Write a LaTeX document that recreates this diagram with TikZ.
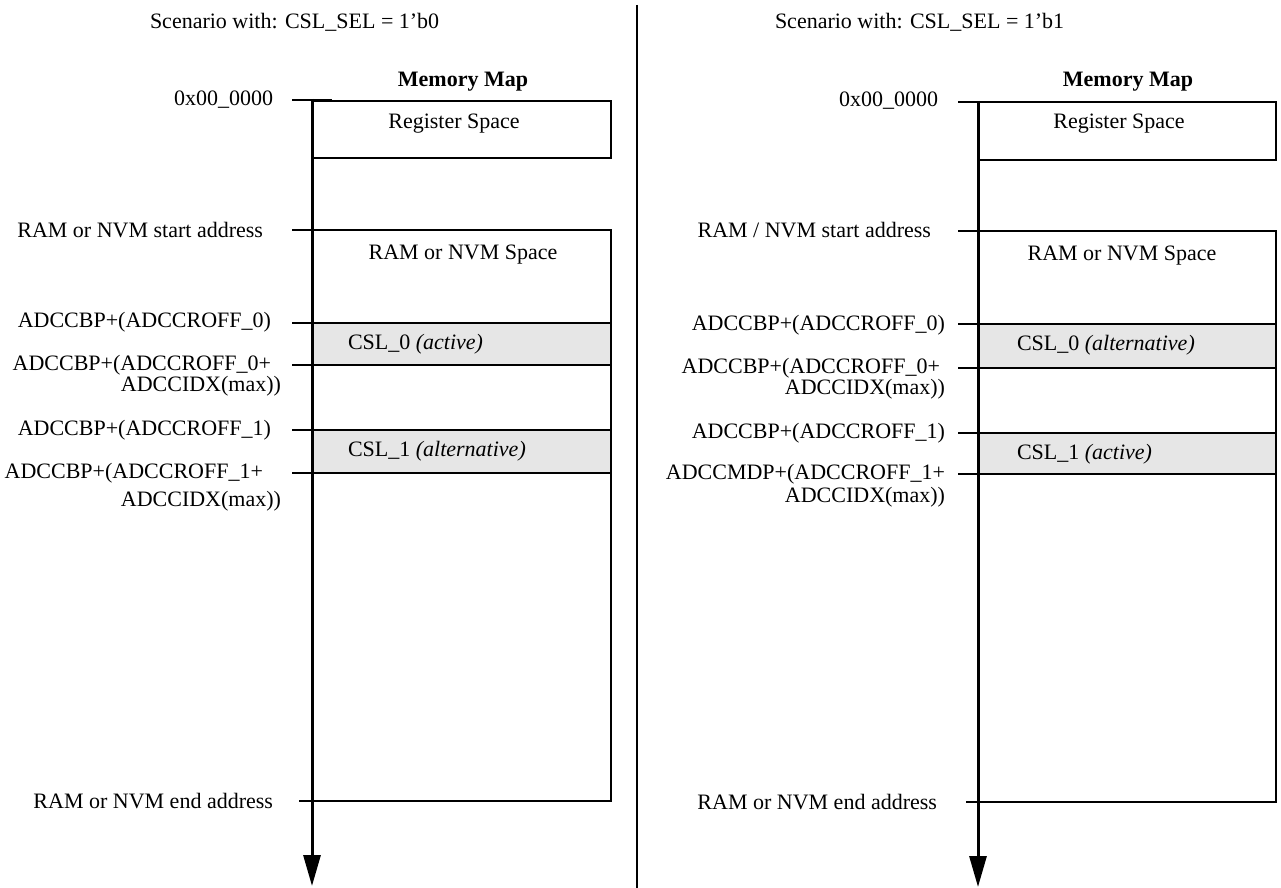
\documentclass[tikz,border=0pt]{standalone}
\usepackage{fontspec}
\setmainfont{Liberation Serif}
\usetikzlibrary{arrows.meta}
\definecolor{cslgray}{HTML}{E6E6E6}
\begin{document}
\begin{tikzpicture}[x=0.5pt,y=-0.5pt,
  every node/.style={font=\fontsize{11}{13}\selectfont, inner sep=0pt, outer sep=0pt},
  lbl/.style={anchor=east},
  ttl/.style={anchor=west},
  memline/.style={line width=1pt},
  tickline/.style={line width=1pt},
  axisline/.style={line width=1.5pt, -{Triangle[width=8.5pt,length=15.5pt]}},
  cslbox/.style={draw, line width=1pt, fill=cslgray}
]
\useasboundingbox (0,0) rectangle (1281,888);
\fill[white] (0,0) rectangle (1281,888);

% divider
\coordinate (divtop) at (637,5);
\coordinate (divbot) at (637,888);
\draw[line width=1pt] (divtop) -- (divbot);

% ================= LEFT PANEL =================
\node[ttl] (ltitle) at (150,22) {Scenario with: CSL\_SEL = 1'b0};
\node (lmm) at (463,82) {\bfseries Memory Map};

% boxes
\draw[memline] (312,101) rectangle (611,158);
\draw[memline] (312,230) rectangle (611,801);
\draw[cslbox] (312,323) rectangle (611,365);
\draw[cslbox] (312,430) rectangle (611,473);

\node (lreg) at (454,124) {Register Space};
\node (lram) at (463,255) {RAM or NVM Space};
\node[anchor=west] (lcsl0) at (348,344) {CSL\_0 \textit{(active)}};
\node[anchor=west] (lcsl1) at (348,451) {CSL\_1 \textit{(alternative)}};

% labels
\node[lbl] (la0) at (273,100) {0x00\_0000};
\node[lbl] (la1) at (263,230) {RAM or NVM start address};
\node[lbl] (la2) at (271,322) {ADCCBP+(ADCCROFF\_0)};
\node[lbl] (la3) at (271,365) {ADCCBP+(ADCCROFF\_0+};
\node[lbl] (la3b) at (281,386) {ADCCIDX(max))};
\node[lbl] (la4) at (271,430) {ADCCBP+(ADCCROFF\_1)};
\node[lbl] (la5) at (263,473) {ADCCBP+(ADCCROFF\_1+};
\node[lbl] (la5b) at (281,501) {ADCCIDX(max))};
\node[lbl] (la6) at (273,801) {RAM or NVM end address};

% ticks
\coordinate (lt0a) at (292,100); \coordinate (lt0b) at (332,100);
\coordinate (lt1a) at (292,230); \coordinate (lt1b) at (322,230);
\coordinate (lt2a) at (292,323); \coordinate (lt2b) at (324,323);
\coordinate (lt3a) at (292,365); \coordinate (lt3b) at (322,365);
\coordinate (lt4a) at (292,430); \coordinate (lt4b) at (322,430);
\coordinate (lt5a) at (292,473); \coordinate (lt5b) at (322,473);
\coordinate (lt6a) at (299,801); \coordinate (lt6b) at (320,801);
\foreach \i in {0,...,6}{\draw[tickline] (lt\i a) -- (lt\i b);}

% axis
\coordinate (laxtop) at (312,99);
\coordinate (laxbot) at (312,886);
\draw[axisline] (laxtop) -- (laxbot);

% ================= RIGHT PANEL =================
\node[ttl] (rtitle) at (775,22) {Scenario with: CSL\_SEL = 1'b1};
\node (rmm) at (1128,82) {\bfseries Memory Map};

\draw[memline] (978,102) rectangle (1276,160);
\draw[memline] (978,231) rectangle (1276,802);
\draw[cslbox] (978,324) rectangle (1276,368);
\draw[cslbox] (978,433) rectangle (1276,474);

\node (rreg) at (1119,124) {Register Space};
\node (rram) at (1122,256) {RAM or NVM Space};
\node[anchor=west] (rcsl0) at (1017,345) {CSL\_0 \textit{(alternative)}};
\node[anchor=west] (rcsl1) at (1017,454) {CSL\_1 \textit{(active)}};

\node[lbl] (ra0) at (938,101) {0x00\_0000};
\node[lbl] (ra1) at (931,230) {RAM / NVM start address};
\node[lbl] (ra2) at (945,325) {ADCCBP+(ADCCROFF\_0)};
\node[lbl] (ra3) at (940,368) {ADCCBP+(ADCCROFF\_0+};
\node[lbl] (ra3b) at (945,389) {ADCCIDX(max))};
\node[lbl] (ra4) at (945,433) {ADCCBP+(ADCCROFF\_1)};
\node[lbl] (ra5) at (945,474) {ADCCMDP+(ADCCROFF\_1+};
\node[lbl] (ra5b) at (945,497) {ADCCIDX(max))};
\node[lbl] (ra6) at (937,802) {RAM or NVM end address};

\coordinate (rt0a) at (958,102); \coordinate (rt0b) at (980,102);
\coordinate (rt1a) at (958,231); \coordinate (rt1b) at (988,231);
\coordinate (rt2a) at (958,324); \coordinate (rt2b) at (980,324);
\coordinate (rt3a) at (958,368); \coordinate (rt3b) at (980,368);
\coordinate (rt4a) at (958,433); \coordinate (rt4b) at (990,433);
\coordinate (rt5a) at (958,474); \coordinate (rt5b) at (988,474);
\coordinate (rt6a) at (966,802); \coordinate (rt6b) at (994,802);
\foreach \i in {0,...,6}{\draw[tickline] (rt\i a) -- (rt\i b);}

\coordinate (raxtop) at (978,101);
\coordinate (raxbot) at (978,887);
\draw[axisline] (raxtop) -- (raxbot);
\end{tikzpicture}
\end{document}
